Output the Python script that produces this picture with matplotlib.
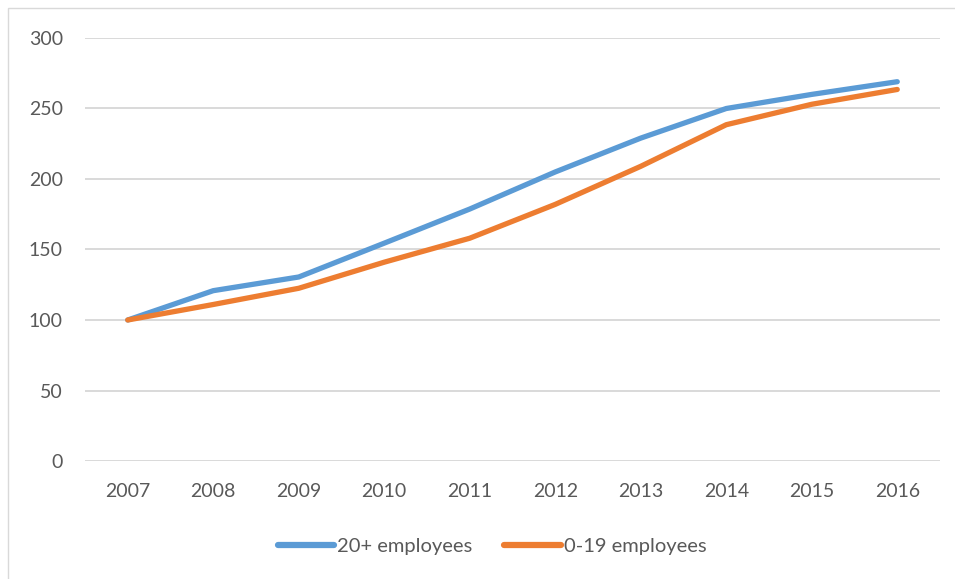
import matplotlib
matplotlib.use("Agg")
import matplotlib.pyplot as plt
import matplotlib.patches as patches

# ── data (index, 2007 = 100) ────────────────────────────────────────────────
years = ["2007", "2008", "2009", "2010", "2011", "2012", "2013", "2014", "2015", "2016"]
large = [100, 120.8, 130.5, 154.5, 178.7, 205, 229, 250, 260, 269]
small = [100, 111, 122.5, 141, 158, 182, 209, 238.5, 253, 263.5]
series_names = ["20+ employees", "0-19 employees"]
y_ticks = [0, 50, 100, 150, 200, 250, 300]

blue = "#5B9BD5"
orange = "#ED7D31"
text_col = "#595959"

plt.rcParams["font.family"] = ["Lato", "DejaVu Sans"]

fig = plt.figure(figsize=(9.55, 5.79), dpi=100)
W, H = 955, 579
ax = fig.add_axes([85 / W, 1 - 461 / H, (940 - 85) / W, (461 - 38) / H])

# chart border (partly cut off by the image edge, like the reference)
fig.patches.append(patches.Rectangle((8 / W, -0.1), 1.2, 1 - 8 / H + 0.1,
                                     transform=fig.transFigure, fill=False,
                                     edgecolor="#D9D9D9", linewidth=1.0))

x = range(len(years))
ax.plot(x, large, color=blue, lw=3.8, solid_capstyle="round",
        solid_joinstyle="round", label=series_names[0], zorder=3)
ax.plot(x, small, color=orange, lw=3.8, solid_capstyle="round",
        solid_joinstyle="round", label=series_names[1], zorder=3)

ax.set_xlim(-0.5, len(years) - 0.5)
ax.set_ylim(0, 300)
ax.set_yticks(y_ticks)
ax.set_xticks(list(x))
ax.set_xticklabels(years)
ax.grid(axis="y", color="#D9D9D9", linewidth=1.4)
ax.set_axisbelow(True)
for s in ax.spines.values():
    s.set_visible(False)
ax.tick_params(axis="both", length=0, labelsize=14, labelcolor=text_col)
ax.tick_params(axis="y", pad=16)
ax.tick_params(axis="x", pad=16)

leg = fig.legend(loc="center", bbox_to_anchor=(492 / W, 1 - 546 / H), ncol=2,
                 frameon=False, fontsize=14.5, handlelength=2.8,
                 handletextpad=0.15, columnspacing=1.6)
for t in leg.get_texts():
    t.set_color(text_col)
for h in leg.get_lines():
    h.set_linewidth(4.5)
    h.set_solid_capstyle("round")

fig.savefig("out.png", dpi=100)
